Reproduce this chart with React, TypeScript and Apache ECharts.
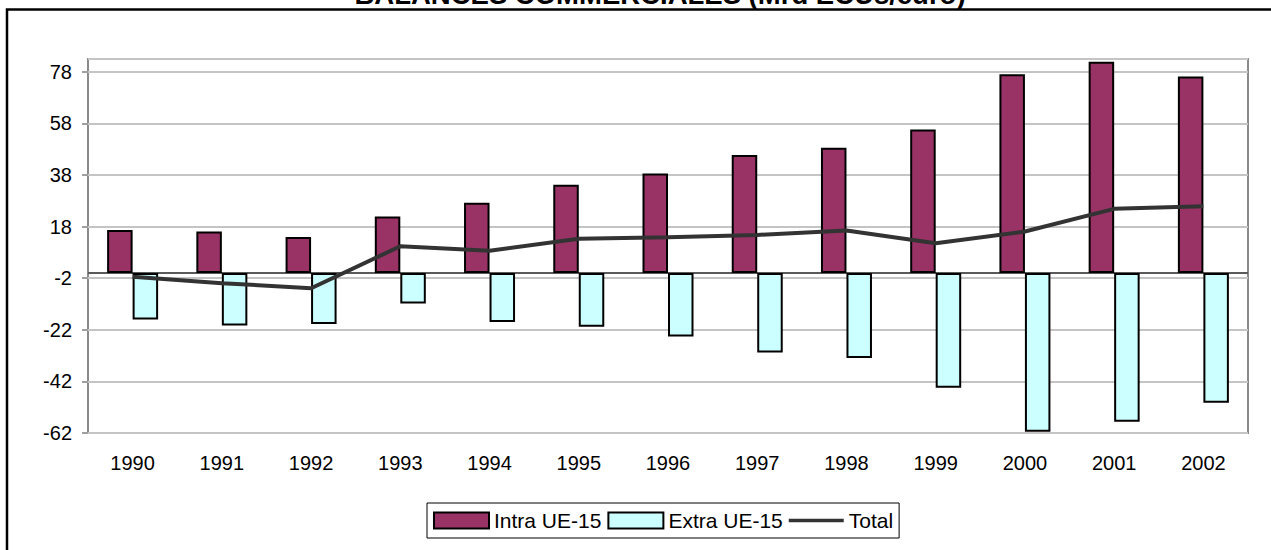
import React, { useEffect, useRef } from "react";
import * as echarts from "echarts";

const years = ["1990", "1991", "1992", "1993", "1994", "1995", "1996", "1997", "1998", "1999", "2000", "2001", "2002"];
const intraUE = [16.7, 16.1, 14.0, 21.9, 27.3, 34.2, 38.6, 45.8, 48.6, 55.7, 77.1, 81.9, 76.2];
const extraUE = [-18.0, -20.3, -19.7, -11.8, -19.0, -20.8, -24.6, -30.8, -32.9, -44.5, -61.5, -57.6, -50.3];
const totalUE = [-1.4, -3.9, -5.9, 10.4, 8.7, 13.3, 13.9, 14.8, 16.5, 11.6, 16.1, 24.9, 25.9];
const yMin = -62;
const yMax = 83;
const yStep = 20;

const FONT = "'Liberation Sans', Arial, sans-serif";

export default function App() {
  const ref = useRef<HTMLDivElement>(null);
  useEffect(() => {
    if (!ref.current) return;
    const chart = echarts.init(ref.current, undefined, { renderer: "svg" });
    chart.setOption({
      animation: false,
      backgroundColor: "#ffffff",
      textStyle: { fontFamily: FONT },
      graphic: [
        {
          type: "rect",
          shape: { x: 7, y: 9.5, width: 1320, height: 600 },
          style: { fill: "none", stroke: "#000", lineWidth: 2.5 },
          silent: true,
        },
        {
          type: "text",
          x: 660,
          y: -6,
          style: {
            text: "BALANCES COMMERCIALES (Mrd ECUs/euro)",
            fontFamily: FONT,
            fontWeight: "bold",
            fontSize: 27.5,
            fill: "#000",
            align: "center",
            verticalAlign: "middle",
          },
          silent: true,
        },
      ],
      grid: {
        left: 88,
        top: 59,
        right: 23,
        bottom: 117,
        show: true,
        borderColor: "#8a8a8a",
        borderWidth: 2,
        containLabel: false,
      },
      legend: {
        left: 427,
        top: 503,
        padding: [7, 6, 7, 6],
        borderColor: "#000",
        borderWidth: 1,
        itemWidth: 55,
        itemHeight: 16,
        itemGap: 6,
        selectedMode: false,
        textStyle: { fontSize: 21, color: "#000", fontFamily: FONT },
        data: [
          { name: "Intra UE-15", icon: "rect" },
          { name: "Extra UE-15", icon: "rect" },
          { name: "Total", icon: "path://M0,0 L60,0 L60,4 L0,4 Z" },
        ],
      },
      xAxis: {
        type: "category",
        data: years,
        position: "bottom",
        axisLine: { show: false, onZero: false },
        axisTick: { show: false },
        axisLabel: { fontSize: 20, color: "#000", margin: 20, fontFamily: FONT },
        splitLine: { show: false },
      },
      yAxis: {
        type: "value",
        min: yMin,
        max: yMax,
        interval: yStep,
        axisLine: { show: false },
        axisTick: { show: true, length: 6, lineStyle: { color: "#a0a0a0", width: 2 } },
        axisLabel: { fontSize: 20, color: "#000", margin: 16, showMaxLabel: false, fontFamily: FONT },
        splitLine: { show: true, lineStyle: { color: "#c4c4c4", width: 2 } },
      },
      series: [
        {
          name: "Intra UE-15",
          type: "bar",
          data: intraUE,
          barWidth: 25.5,
          barGap: "0%",
          itemStyle: { color: "#993366", borderColor: "#000", borderWidth: 2 },
          markLine: {
            silent: true,
            symbol: "none",
            label: { show: false },
            lineStyle: { color: "#5a5a5a", width: 2, type: "solid" },
            data: [{ yAxis: 0 }],
            z: 1,
          },
        },
        {
          name: "Extra UE-15",
          type: "bar",
          data: extraUE,
          barWidth: 25.5,
          barGap: "0%",
          itemStyle: { color: "#ccffff", borderColor: "#000", borderWidth: 2 },
        },
        {
          name: "Total",
          type: "line",
          data: totalUE,
          symbol: "none",
          lineStyle: { color: "#333333", width: 4 },
          itemStyle: { color: "#333333" },
          z: 5,
        },
      ],
    });
    return () => chart.dispose();
  }, []);
  return <div ref={ref} style={{ position: "absolute", left: 0, top: 0, width: 1271, height: 550 }} />;
}
